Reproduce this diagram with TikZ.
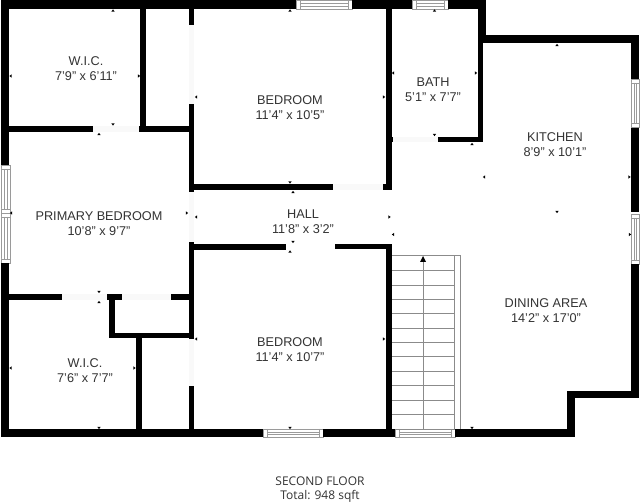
\documentclass[tikz,border=0pt]{standalone}
\usepackage{fontspec}
\setmainfont{Liberation Sans}
\newfontfamily\capfont{Open Sans}
\definecolor{lbl}{HTML}{333333}
\definecolor{wgray}{HTML}{9A9A9A}
\definecolor{doorfill}{HTML}{F9F9F9}
\tikzset{
  wall/.style={fill=black,draw=none},
  tick/.style={fill=black,draw=none},
  doorway/.style={fill=doorfill,draw=none},
  glass/.style={draw=wgray,line width=0.7pt,fill=white},
  tread/.style={draw=wgray!90!black,line width=0.7pt},
  roomtext/.style={text=lbl,font=\fontsize{12.7}{15}\selectfont,inner sep=0pt,align=center,anchor=center},
  captext/.style={text=lbl,font=\capfont\fontsize{12}{14.2}\selectfont,inner sep=0pt,align=center,anchor=center}
}
\newcommand{\Wl}[4]{\fill[wall] (#1,#2) rectangle (#3,#4);}
\newcommand{\Dr}[4]{\fill[doorway] (#1,#2) rectangle (#3,#4);}
\newcommand{\TU}[2]{\fill[tick] (#1-1.7,#2+1.2) -- (#1+1.7,#2+1.2) -- (#1,#2-1.2) -- cycle;}
\newcommand{\TD}[2]{\fill[tick] (#1-1.7,#2-1.2) -- (#1+1.7,#2-1.2) -- (#1,#2+1.2) -- cycle;}
\newcommand{\TL}[2]{\fill[tick] (#1+1.2,#2-1.7) -- (#1+1.2,#2+1.7) -- (#1-1.2,#2) -- cycle;}
\newcommand{\TR}[2]{\fill[tick] (#1-1.2,#2-1.7) -- (#1-1.2,#2+1.7) -- (#1+1.2,#2) -- cycle;}
\newcommand{\WinH}[4]{%
  \draw[glass] (#1,#3) rectangle (#2,#4);
  \draw[glass] (#1+4,#3) -- (#1+4,#4) (#2-4,#3) -- (#2-4,#4);
  \draw[glass] (#1+4,#3+3) -- (#2-4,#3+3) (#1+4,#4-3) -- (#2-4,#4-3);}
\newcommand{\WinV}[4]{%
  \draw[glass] (#1,#3) rectangle (#2,#4);
  \draw[glass] (#1,#3+4) -- (#2,#3+4) (#1,#4-4) -- (#2,#4-4);
  \draw[glass] (#1+3,#3+4) -- (#1+3,#4-4) (#2-3,#3+4) -- (#2-3,#4-4);}
\begin{document}
\begin{tikzpicture}[x=1pt,y=-1pt]
\useasboundingbox (0,0) rectangle (640,502);
\fill[white] (0,0) rectangle (640,502);
% doorways
\Dr{93}{126}{139}{132}
\Dr{189}{25}{194}{104}
\Dr{189}{192}{194}{242}
\Dr{333}{184}{383}{190}
\Dr{391}{137}{438}{142}
\Dr{62}{294.5}{107}{300}
\Dr{122}{294.5}{171}{300}
\Dr{189}{339}{194}{386}
% windows
\WinH{296}{352}{0}{9}
\WinH{412}{448}{0}{9}
\WinH{263}{323}{429}{437}
\WinH{395}{455}{429}{437}
\WinV{1}{10}{165}{213}
\WinV{1}{10}{213}{263}
\WinV{631}{639}{79}{127}
\WinV{631}{639}{214}{264}
% stairs
\draw[tread] (391,255.5) rectangle (454.5,429);
\draw[tread] (454.5,255.5) -- (460.5,255.5) -- (460.5,429);
\foreach \yy in {270.7,285,299.3,313.7,328,342.3,356.7,371.3,385.7,400,414.3}
  \draw[tread] (391,\yy) -- (454.5,\yy);
\draw[tread] (423,260) -- (423,429);
\fill[tick] (420,262) -- (426,262) -- (423,256) -- cycle;
% outer walls
\Wl{1}{0}{296}{9}
\Wl{352}{0}{412}{9}
\Wl{448}{0}{486}{9}
\Wl{1}{0}{9}{165}
\Wl{1}{263}{9}{437}
\Wl{1}{429}{263}{437}
\Wl{323}{429}{395}{437}
\Wl{455}{429}{575}{437}
\Wl{567}{391}{575}{437}
\Wl{567}{391}{639}{398.5}
\Wl{631}{264}{639}{398.5}
\Wl{631}{128}{639}{212.5}
\Wl{631}{35}{639}{79}
\Wl{482}{35}{639}{43.5}
\Wl{478}{0}{486}{43.5}
\Wl{478}{35}{483}{142}
\Wl{438}{137}{483}{142}
% inner walls
\Wl{385.7}{9}{391.5}{190}
\Wl{390}{137}{393}{142}
\Wl{191}{184}{333}{190}
\Wl{383}{184}{391.5}{190}
\Wl{189}{0}{194}{25}
\Wl{189}{104}{194}{192}
\Wl{189}{242}{194}{339}
\Wl{189}{386}{194}{437}
\Wl{189}{244}{286}{250}
\Wl{335}{244}{391.5}{249.5}
\Wl{385.7}{244}{391.5}{437}
\Wl{140}{0}{146}{132}
\Wl{9}{126}{93}{132}
\Wl{139}{126}{190}{132}
\Wl{9}{294.5}{62}{300}
\Wl{107}{294.5}{122}{300}
\Wl{171}{294.5}{190}{300}
\Wl{109}{294.5}{114.5}{338}
\Wl{109}{333}{190}{338}
\Wl{136}{333}{141.5}{437}
% ticks
\TU{113}{10.5} \TL{10.5}{76} \TR{139}{76} \TD{113}{124.5} \TU{99}{134}
\TL{11}{213} \TR{187}{213} \TL{196}{217} \TL{196}{97}
\TU{290}{10.5} \TD{290}{182.5} \TU{293}{192} \TD{293}{242} \TU{290}{251.5}
\TU{434.5}{10.5} \TU{557}{45} \TL{393}{73} \TR{476}{73} \TR{384}{97}
\TD{434.5}{135} \TU{472}{144} \TL{484}{177} \TR{629.5}{177} \TD{557}{212}
\TR{389.5}{217} \TL{393}{234.5} \TR{630}{234.5}
\TD{99}{292} \TU{99}{302} \TL{10.5}{368} \TR{134.5}{368} \TD{99}{428}
\TL{196}{339} \TD{290}{428} \TR{384}{339} \TD{472}{428}
% labels
\node[roomtext] (wica) at (86,68.5) {W.I.C.\\7'9" x 6'11"};
\node[roomtext] (beda) at (290,108) {BEDROOM\\11'4" x 10'5"};
\node[roomtext] (bath) at (433,90) {BATH\\5'1" x 7'7"};
\node[roomtext] (kit) at (555,144.5) {KITCHEN\\8'9" x 10'1"};
\node[roomtext] (prim) at (99,224) {PRIMARY BEDROOM\\10'8" x 9'7"};
\node[roomtext] (hall) at (303,221.5) {HALL\\11'8" x 3'2"};
\node[roomtext] (bedb) at (290,350) {BEDROOM\\11'4" x 10'7"};
\node[roomtext] (wicb) at (85,370.5) {W.I.C.\\7'6" x 7'7"};
\node[roomtext] (din) at (546,311) {DINING AREA\\14'2" x 17'0"};
\node[captext] (cap) at (320,489.5) {SECOND FLOOR\\Total: 948 sqft};
\end{tikzpicture}
\end{document}
